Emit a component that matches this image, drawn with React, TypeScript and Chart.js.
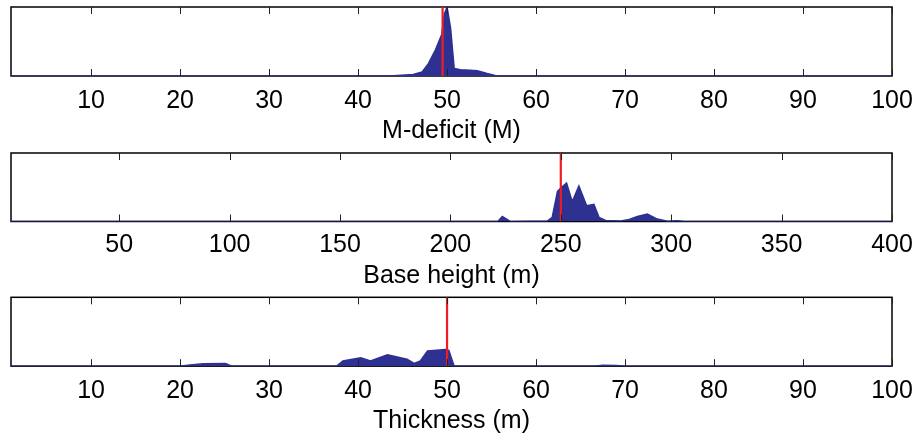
import React, { useEffect, useRef } from "react";
import { Chart, registerables } from "chart.js";

Chart.register(...registerables);

// ---- Data ----
const mDeficitX = [1, 42, 44, 46.2, 47.2, 47.9, 48.7, 49.4, 49.7, 50, 50.4, 50.8, 51.5, 52.6, 53.4, 54.5, 55.4, 57, 100];
const mDeficitY = [0, 0, 0.005, 0.023, 0.06, 0.18, 0.38, 0.6, 0.9, 1.0, 0.69, 0.11, 0.09, 0.085, 0.075, 0.035, 0.008, 0, 0];
const mDeficitMarker = 49.5;
const mDeficitTicks = [10, 20, 30, 40, 50, 60, 70, 80, 90, 100];

const baseHeightX = [1, 220, 221.6, 223.5, 226.9, 228, 243.9, 246.1, 248.5, 250, 252.6, 255.2, 258.2, 261.7, 265, 267.3, 270.3, 277.1, 281, 284.7, 289.2, 293.7, 298.3, 302.8, 306, 400];
const baseHeightY = [0, 0, 0.003, 0.075, 0.005, 0, 0.006, 0.06, 0.44, 0.49, 0.56, 0.29, 0.52, 0.23, 0.25, 0.06, 0.015, 0.008, 0.03, 0.075, 0.11, 0.035, 0.005, 0.012, 0, 0];
const baseHeightMarker = 250;
const baseHeightTicks = [50, 100, 150, 200, 250, 300, 350, 400];

const thicknessX = [1, 20, 21.1, 22.6, 25.1, 25.8, 37.6, 38.3, 40.3, 41.4, 43.3, 45.5, 46.3, 47, 47.8, 49.8, 50.2, 50.8, 66.5, 67.5, 69, 70, 100];
const thicknessY = [0, 0, 0.015, 0.035, 0.04, 0, 0, 0.075, 0.12, 0.075, 0.165, 0.1, 0.04, 0.075, 0.22, 0.24, 0.23, 0, 0, 0.012, 0.01, 0, 0];
const thicknessMarker = 50;
const thicknessTicks = [10, 20, 30, 40, 50, 60, 70, 80, 90, 100];

const NAVY = "#2e3192";
const RED = "#ee1d23";
const FONT = "'Liberation Sans', Arial, Helvetica, sans-serif";

type PanelProps = {
  xs: number[];
  ys: number[];
  marker: number;
  ticks: number[];
  xMax: number;
  title: string;
  padTop: number;
  tickPad: number;
  titlePadTop: number;
  titlePadBottom: number;
};

const boxPlugin = {
  id: "boxTicks",
  beforeDatasetsDraw(chart: any) {
    const { ctx, chartArea } = chart;
    const { left, top, right, bottom } = chartArea;
    ctx.save();
    ctx.strokeStyle = "#000";
    ctx.lineWidth = 1.5;
    ctx.strokeRect(left, top, right - left, bottom - top);
    ctx.restore();
  },
  afterDatasetsDraw(chart: any) {
    const { ctx, chartArea } = chart;
    const { top, bottom } = chartArea;
    const xScale = chart.scales.x;
    ctx.save();
    ctx.strokeStyle = "#222";
    ctx.lineWidth = 1;
    for (const t of xScale.ticks) {
      const px = Math.round(xScale.getPixelForValue(t.value)) + 0.5;
      ctx.beginPath();
      ctx.moveTo(px, bottom);
      ctx.lineTo(px, bottom - 7);
      ctx.moveTo(px, top);
      ctx.lineTo(px, top + 7);
      ctx.stroke();
    }
    ctx.restore();
  },
};

function Panel(p: PanelProps) {
  const ref = useRef<HTMLCanvasElement | null>(null);
  useEffect(() => {
    if (!ref.current) return;
    const data = p.xs.map((x, i) => ({ x, y: p.ys[i] }));
    const chart = new Chart(ref.current, {
      type: "line",
      data: {
        datasets: [
          {
            data: [
              { x: p.marker, y: 0 },
              { x: p.marker, y: 1 },
            ],
            borderColor: RED,
            borderWidth: 2.2,
            pointRadius: 0,
            fill: false,
            order: 0,
          },
          {
            data,
            borderColor: NAVY,
            backgroundColor: NAVY,
            borderWidth: 1.5,
            pointRadius: 0,
            fill: "origin",
            tension: 0,
            order: 1,
          },
        ],
      },
      options: {
        responsive: false,
        animation: false,
        layout: { padding: { left: 11, right: 25, top: p.padTop, bottom: 0 } },
        plugins: { legend: { display: false }, tooltip: { enabled: false } },
        scales: {
          x: {
            type: "linear",
            min: 1,
            max: p.xMax,
            border: { display: false },
            grid: { display: false, drawTicks: false },
            afterBuildTicks: (scale: any) => {
              scale.ticks = p.ticks.map((v) => ({ value: v }));
            },
            afterFit: (scale: any) => {
              scale.paddingRight = 0;
              scale.paddingLeft = 0;
            },
            ticks: {
              autoSkip: false,
              maxRotation: 0,
              padding: p.tickPad,
              color: "#000",
              font: { family: FONT, size: 25, lineHeight: 1.2 },
              callback: (v: any) => String(v),
            },
            title: {
              display: true,
              text: p.title,
              color: "#000",
              font: { family: FONT, size: 25, lineHeight: 1.2 },
              padding: { top: p.titlePadTop, bottom: p.titlePadBottom },
            },
          },
          y: {
            display: false,
            min: 0,
            max: 1,
          },
        },
      },
      plugins: [boxPlugin],
    } as any);
    return () => chart.destroy();
  }, []);
  return <canvas ref={ref} width={917} height={145} style={{ display: "block" }} />;
}

export default function App() {
  return (
    <div style={{ position: "fixed", left: 0, top: 0, width: 917, height: 435, background: "#fff" }}>
      <Panel xs={mDeficitX} ys={mDeficitY} marker={mDeficitMarker} ticks={mDeficitTicks} xMax={100}
        title="M-deficit (M)" padTop={7} tickPad={10.5} titlePadTop={3} titlePadBottom={-1.5} />
      <Panel xs={baseHeightX} ys={baseHeightY} marker={baseHeightMarker} ticks={baseHeightTicks} xMax={400}
        title="Base height (m)" padTop={8} tickPad={8.3} titlePadTop={3.2} titlePadBottom={-1.5} />
      <Panel xs={thicknessX} ys={thicknessY} marker={thicknessMarker} ticks={thicknessTicks} xMax={100}
        title="Thickness (m)" padTop={7.3} tickPad={10.4} titlePadTop={3.3} titlePadBottom={-1} />
    </div>
  );
}
